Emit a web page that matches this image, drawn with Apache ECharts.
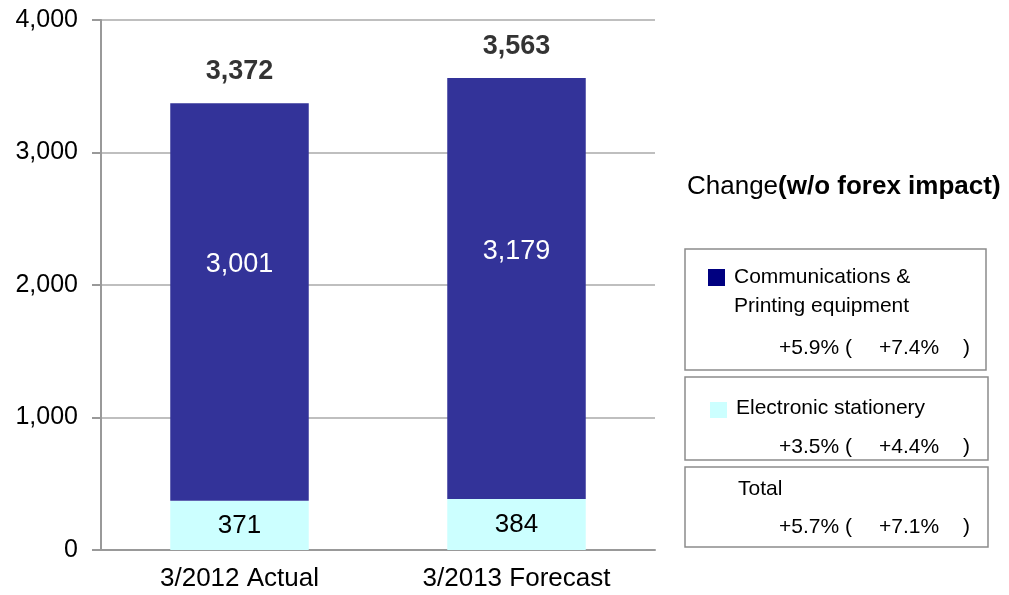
<!DOCTYPE html>
<html>
<head>
<meta charset="utf-8">
<script src="https://cdn.jsdelivr.net/npm/echarts@6/dist/echarts.min.js"></script>
<style>
  html, body { margin: 0; padding: 0; background: #fff; }
  #chart { width: 1009px; height: 595px; }
</style>
</head>
<body>
<div id="chart"></div>
<script>
// categories and values
var categories = ['3/2012 Actual', '3/2013 Forecast']
var stationery = [371, 384]
var commPrinting = [3001, 3179]
var totals = [3372, 3563]
// change table: [reported, w/o forex]
var changeComm = ['+5.9%', '+7.4%']
var changeStat = ['+3.5%', '+4.4%']
var changeTotal = ['+5.7%', '+7.1%']

var FONT = '"Liberation Sans", Arial, sans-serif'
var fmt = function (v) { return Number(v).toLocaleString('en-US') }

var myChart = echarts.init(document.getElementById('chart'))

// legend / change boxes
function box (x, y, w, h) {
  return {type: 'rect', shape: {x: x, y: y, width: w, height: h}, style: {fill: 'none', stroke: '#8c8c8c', lineWidth: 1.5}}
}
function txt (x, y, s) {
  return {type: 'text', style: {text: s, x: x, y: y, fill: '#000', font: '21px ' + FONT, textVerticalAlign: 'middle'}}
}
function changeRow (y, vals) {
  return [
    txt(779, y, vals[0] + ' ('),
    txt(879, y, vals[1]),
    txt(963, y, ')')
  ]
}

var graphics = [
  {
    type: 'text',
    style: {
      x: 687, y: 187, textVerticalAlign: 'middle',
      text: '{a|Change}{b|(w/o forex impact)}',
      rich: {
        a: {fontSize: 26, fontFamily: FONT, fill: '#000'},
        b: {fontSize: 26, fontFamily: FONT, fontWeight: 'bold', fill: '#000'}
      }
    }
  },
  box(685, 249, 301, 121),
  {type: 'rect', shape: {x: 708, y: 269, width: 17, height: 17}, style: {fill: '#000080'}},
  txt(734, 277, 'Communications &'),
  txt(734, 306, 'Printing equipment'),
  box(685, 377, 303, 83),
  {type: 'rect', shape: {x: 710, y: 402, width: 17, height: 16}, style: {fill: '#ccffff'}},
  txt(736, 408, 'Electronic stationery'),
  box(685, 467, 303, 80),
  txt(738, 489, 'Total')
]
graphics = graphics.concat(changeRow(348, changeComm), changeRow(447, changeStat), changeRow(527, changeTotal))

myChart.setOption({
  animation: false,
  textStyle: {fontFamily: FONT},
  grid: {left: 101, right: 354, top: 20, bottom: 45},
  xAxis: {
    type: 'category',
    data: categories,
    axisLine: {lineStyle: {color: '#999', width: 2}},
    axisTick: {show: false},
    axisLabel: {color: '#000', fontSize: 26, margin: 16, fontFamily: FONT}
  },
  yAxis: {
    type: 'value',
    min: 0,
    max: 4000,
    interval: 1000,
    axisLine: {show: true, lineStyle: {color: '#999', width: 2}},
    axisTick: {show: true, length: 9, lineStyle: {color: '#999', width: 2}},
    splitLine: {lineStyle: {color: '#aaa', width: 1.5}},
    axisLabel: {color: '#000', fontSize: 25, margin: 23, fontFamily: FONT, formatter: fmt}
  },
  series: [
    {
      name: 'Electronic stationery',
      type: 'bar',
      stack: 'sales',
      data: stationery,
      barWidth: '50%',
      itemStyle: {color: '#ccffff'},
      label: {show: true, position: 'inside', color: '#000', fontSize: 26, fontFamily: FONT, formatter: function (p) { return fmt(p.value) }}
    },
    {
      name: 'Communications & Printing equipment',
      type: 'bar',
      stack: 'sales',
      data: commPrinting,
      barWidth: '50%',
      itemStyle: {color: '#333399'},
      label: {show: true, position: 'inside', offset: [0, -37], color: '#fff', fontSize: 27, fontFamily: FONT, formatter: function (p) { return fmt(p.value) }}
    },
    {
      name: 'Total',
      type: 'scatter',
      data: totals,
      symbolSize: 0,
      itemStyle: {color: 'transparent'},
      label: {show: true, position: 'top', distance: 18, color: '#000', fontSize: 27, fontWeight: 'bold', fontFamily: FONT, formatter: function (p) { return fmt(p.value) }}
    }
  ],
  graphic: graphics
})
</script>
</body>
</html>
